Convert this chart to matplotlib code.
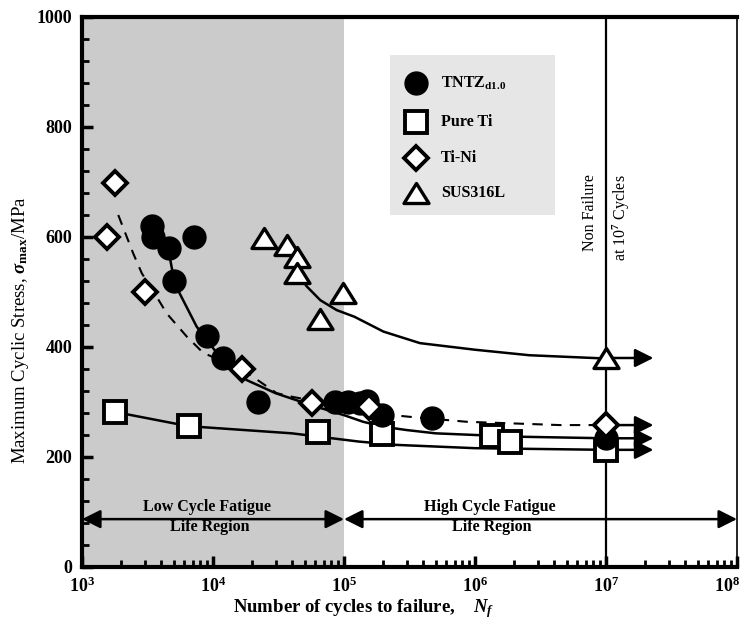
import matplotlib
matplotlib.use("Agg")
import matplotlib.pyplot as plt
from matplotlib.patches import Rectangle
from matplotlib.lines import Line2D
from matplotlib.path import Path
import matplotlib.transforms as mtransforms
import matplotlib.ticker as mticker

plt.rcParams['font.family'] = ['Liberation Serif', 'DejaVu Serif']
plt.rcParams['mathtext.fontset'] = 'custom'
plt.rcParams['mathtext.rm'] = 'Liberation Serif:bold'
plt.rcParams['mathtext.it'] = 'Liberation Serif:italic:bold'
plt.rcParams['mathtext.bf'] = 'Liberation Serif:bold'

# ---- fatigue test results (cycles to failure, maximum stress in MPa) ----
tntz_n = [3.4e3, 3.5e3, 4.6e3, 5.0e3, 7.1e3, 9.0e3, 1.2e4, 2.2e4,
          8.5e4, 1.07e5, 1.33e5, 1.49e5, 1.95e5, 4.7e5]
tntz_s = [620, 600, 580, 520, 600, 420, 380, 300,
          300, 300, 298, 301, 276, 270]

pureti_n = [1.77e3, 6.5e3, 6.3e4, 1.95e5, 1.35e6, 1.85e6]
pureti_s = [282, 256, 245, 242, 238, 228]

tini_n = [1.55e3, 1.8e3, 3.05e3, 1.65e4, 5.7e4, 1.55e5]
tini_s = [600, 698, 500, 360, 298, 290]

sus_n = [2.45e4, 3.65e4, 4.4e4, 4.4e4, 6.5e4, 9.9e4]
sus_s = [598, 585, 564, 534, 450, 498]

# run-out specimens (no failure at 10^7 cycles)
runout_n = 1e7
runout_tntz = 234
runout_pureti = 213
runout_tini = 258
runout_sus = 380
runout_arrow_end = 2.3e7

# ---- S-N trend curves ----
tntz_fit_n = [4.5e3, 5.1e3, 7.5e3, 1.07e4, 1.8e4, 3.0e4, 5.5e4, 1.0e5,
              1.4e5, 2.0e5, 3.0e5, 5.0e5, 2.0e6, 1.0e7]
tntz_fit_s = [585, 515, 437, 389, 340, 316, 295, 276,
              264, 255, 249, 243, 237, 234]

pureti_fit_n = [1.77e3, 6.5e3, 4.0e4, 1.3e5, 2.5e5, 1.0e6, 1.0e7]
pureti_fit_s = [282, 256, 243, 228, 222, 216, 213]

tini_fit_n = [1.89e3, 2.46e3, 2.86e3, 3.72e3, 4.43e3, 6.3e3, 8.44e3,
              1.65e4, 3.06e4, 4.1e4, 2.38e5, 3.19e5, 8.65e5, 4.46e6, 1.0e7]
tini_fit_s = [640, 570, 534, 491, 461, 419, 389,
              360, 316, 309, 276, 273, 264, 258, 258]

sus_fit_n = [4.5e4, 5.2e4, 6.6e4, 8.8e4, 1.2e5, 2.0e5, 3.8e5, 1.0e6,
             2.6e6, 1.0e7]
sus_fit_s = [531, 510, 485, 467, 455, 428, 407, 395, 385, 379]

# axis ticks
x_decades = [1e3, 1e4, 1e5, 1e6, 1e7, 1e8]
x_decade_labels = [r'$\mathdefault{10^{3}}$', r'$\mathdefault{10^{4}}$',
                   r'$\mathdefault{10^{5}}$', r'$\mathdefault{10^{6}}$',
                   r'$\mathdefault{10^{7}}$', r'$\mathdefault{10^{8}}$']

# region boundaries
lcf_limit = 1e5
x_min, x_max = 1e3, 1e8
region_arrow_s = 87

fig = plt.figure(figsize=(7.41, 6.29), dpi=100)
ax = fig.add_axes([0.1107, 0.0986, 0.8839, 0.8744])
ax.set_xscale('log')
ax.set_xlim(x_min, x_max)
ax.set_ylim(0, 1000)

# low cycle fatigue region shading
ax.axvspan(x_min, lcf_limit, color='#cbcbcb', zorder=0, lw=0)
ax.axvline(runout_n, color='k', lw=1.6, zorder=1)

# trend curves
ax.plot(tntz_fit_n, tntz_fit_s, color='k', lw=1.8, zorder=2)
ax.plot(pureti_fit_n, pureti_fit_s, color='k', lw=1.8, zorder=2)
ax.plot(sus_fit_n, sus_fit_s, color='k', lw=1.8, zorder=2)
ax.plot(tini_fit_n, tini_fit_s, color='k', lw=1.5, ls=(0, (5, 4)), zorder=2)

# run-out arrows
for s in (runout_sus, runout_tini, runout_tntz, runout_pureti):
    ax.annotate('', xy=(runout_arrow_end, s), xytext=(runout_n, s),
                arrowprops=dict(arrowstyle='-|>,head_length=0.7,head_width=0.35',
                                color='k', lw=1.8, shrinkA=0, shrinkB=0,
                                mutation_scale=16), zorder=3)

# fatigue life region arrows
for a, b in ((x_min, lcf_limit), (lcf_limit, x_max)):
    ax.annotate('', xy=(b, region_arrow_s), xytext=(a, region_arrow_s),
                arrowprops=dict(arrowstyle='<|-|>,head_length=0.7,head_width=0.35',
                                color='k', lw=1.8, shrinkA=0, shrinkB=0,
                                mutation_scale=16), zorder=3)

tri = Path([(0, 0.8), (-1, -0.8), (1, -0.8), (0, 0.8)],
           [Path.MOVETO, Path.LINETO, Path.LINETO, Path.CLOSEPOLY])
sq_style = dict(marker='s', ms=16, mfc='white', mec='k', mew=2.8, ls='none')
ci_style = dict(marker='o', ms=16.5, mfc='k', mec='k', mew=1, ls='none')
di_style = dict(marker='D', ms=12, mfc='white', mec='k', mew=2.8, ls='none')
tr_style = dict(marker=tri, ms=18, mfc='white', mec='k', mew=2.4, ls='none')

ax.plot(pureti_n + [runout_n], pureti_s + [runout_pureti], zorder=4, **sq_style)
ax.plot(tntz_n + [runout_n], tntz_s + [runout_tntz], zorder=5, **ci_style)
ax.plot(tini_n + [runout_n], tini_s + [runout_tini], zorder=6, **di_style)
ax.plot(sus_n + [runout_n], sus_s + [runout_sus], zorder=7, **tr_style)

# legend panel
ax.add_patch(Rectangle((0.470, 0.64), 0.252, 0.291, transform=ax.transAxes,
                       facecolor='#e6e6e6', edgecolor='none', zorder=8))
legend_rows = [(ci_style, r'TNTZ$_{\mathrm{d1.0}}$', 0.880),
               (sq_style, 'Pure Ti', 0.809),
               (di_style, 'Ti-Ni', 0.744),
               (tr_style, 'SUS316L', 0.680)]
for style, label, yy in legend_rows:
    ax.add_line(Line2D([0.510], [yy], transform=ax.transAxes, zorder=9, **style))
    ax.text(0.548, yy, label, transform=ax.transAxes, fontsize=11.5,
            fontweight='bold', va='center', ha='left', zorder=10)

# annotations
ax.text(9.0e3, 109, 'Low Cycle Fatigue', ha='center', va='center',
        fontsize=11.5, fontweight='bold', zorder=3)
ax.text(9.5e3, 73, 'Life Region', ha='center', va='center',
        fontsize=11.5, fontweight='bold', zorder=3)
ax.text(1.3e6, 109, 'High Cycle Fatigue', ha='center', va='center',
        fontsize=11.5, fontweight='bold', zorder=3)
ax.text(1.35e6, 73, 'Life Region', ha='center', va='center',
        fontsize=11.5, fontweight='bold', zorder=3)
ax.text(7.55e6, 714, 'Non Failure', rotation=90, ha='center', va='top',
        fontsize=11.5, zorder=3)
ax.text(1.32e7, 714, r'at 10$^{7}$ Cycles', rotation=90, ha='center', va='top',
        fontsize=11.5, zorder=3)

# axes styling
for side in ('left', 'bottom', 'top'):
    ax.spines[side].set_linewidth(3)
ax.spines['right'].set_linewidth(1.2)
ax.spines['right'].set_linestyle((0, (1, 1)))

ax.yaxis.set_major_locator(mticker.MultipleLocator(200))
ax.yaxis.set_minor_locator(mticker.MultipleLocator(40))
# the last decade label is drawn separately so it stays inside the figure
ax.set_xticks(x_decades, labels=x_decade_labels[:-1] + [''])
ax.xaxis.set_minor_locator(mticker.LogLocator(base=10, subs=range(2, 10), numticks=20))
ax.xaxis.set_minor_formatter(mticker.NullFormatter())
ax.tick_params(which='both', direction='in', top=False, right=False)
ax.tick_params(which='major', length=8, width=2.5, labelsize=13)
ax.tick_params(which='minor', length=5, width=2)
ax.tick_params(axis='x', which='major', pad=7)
ax.tick_params(axis='y', which='major', pad=7)
for lab in ax.get_xticklabels() + ax.get_yticklabels():
    lab.set_fontweight('bold')
last_tr = ax.get_xaxis_transform() + mtransforms.ScaledTranslation(
    -10 / 100, -10 / 100, fig.dpi_scale_trans)
ax.text(x_decades[-1], 0, x_decade_labels[-1], transform=last_tr,
        ha='center', va='top', fontsize=13, fontweight='bold', clip_on=False)

ax.set_xlabel(r'Number of cycles to failure,    $N_f$', fontsize=13.5,
              fontweight='bold')
ax.xaxis.set_label_coords(0.43, -0.055)
ax.set_ylabel(r'Maximum Cyclic Stress, $\sigma_{\mathrm{max}}$/MPa', fontsize=13.5)
ax.yaxis.set_label_coords(-0.078, 0.43)

fig.savefig('out.png', dpi=100, facecolor='white')
